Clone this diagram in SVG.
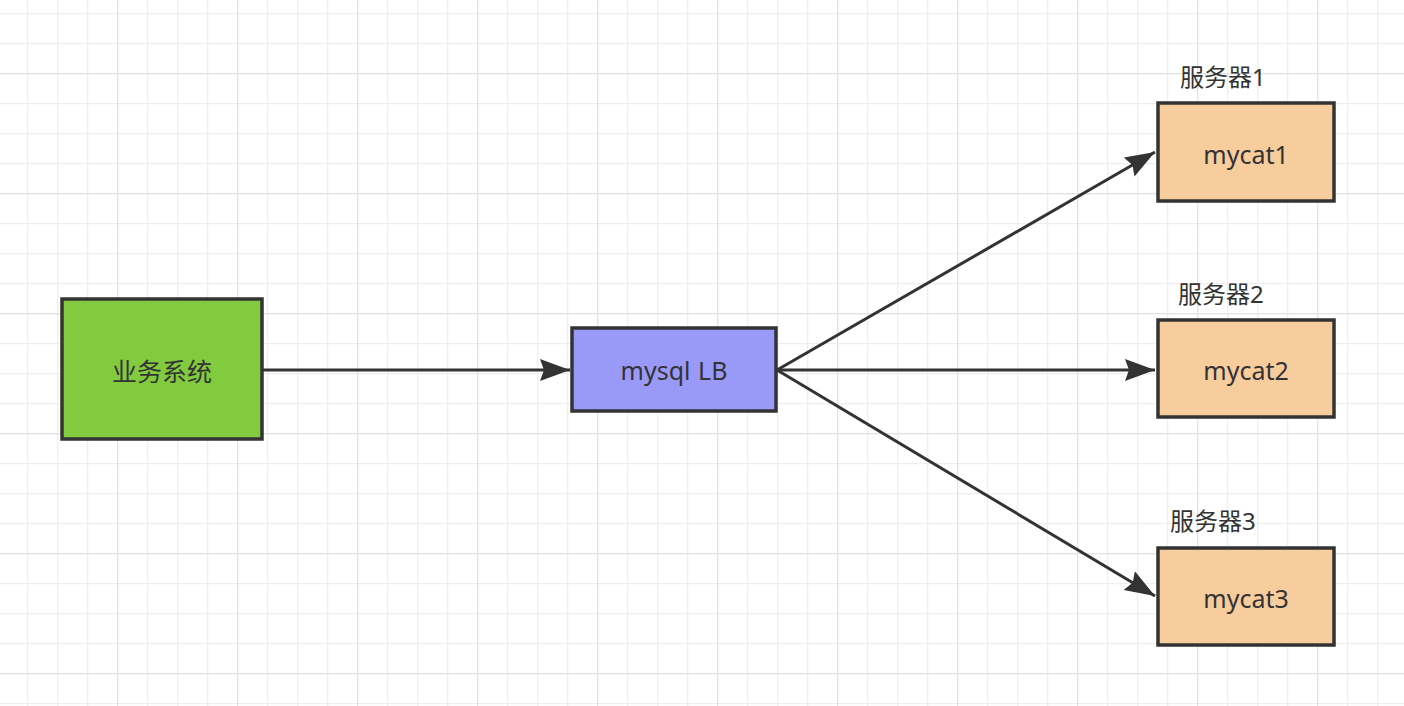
<svg xmlns="http://www.w3.org/2000/svg" width="1404" height="706" viewBox="0 0 1404 706">
<defs>
<pattern id="minor" x="27" y="13" width="30" height="30" patternUnits="userSpaceOnUse">
<path d="M0 0 V30 M0 0 H30" fill="none" stroke="#eeeeee" stroke-width="2.5"/>
</pattern>
<pattern id="major" x="117" y="73" width="120" height="120" patternUnits="userSpaceOnUse">
<path d="M0 0 V120 M0 0 H120" fill="none" stroke="#e3e3e3" stroke-width="2.5"/>
</pattern>
<marker id="arrow" markerUnits="userSpaceOnUse" markerWidth="32" markerHeight="24" refX="30" refY="11" orient="auto">
<path d="M0 0 L30 11 L0 22 L4 11 Z" fill="#333"/>
</marker>
<style>
.box{stroke:#333;stroke-width:3.5}
.t{font-family:"Noto Sans","Noto Sans CJK SC",sans-serif;font-size:25px;fill:#333;text-anchor:middle}
.lbl{font-family:"Noto Sans","Noto Sans CJK SC",sans-serif;font-size:24px;fill:#333}
.edge{stroke:#333;stroke-width:3;fill:none;marker-end:url(#arrow)}
</style>
</defs>
<rect width="1404" height="706" fill="#fff"/>
<rect width="1404" height="706" fill="url(#minor)"/>
<rect width="1404" height="706" fill="url(#major)"/>
<g id="connectors">
<path class="edge" d="M263 370 H570"/>
<path class="edge" d="M777 370 L1155 152"/>
<path class="edge" d="M777 370 H1155"/>
<path class="edge" d="M777 370 L1155 596"/>
</g>
<g id="node-business">
<rect class="box" x="62" y="299" width="200" height="140" fill="#82cb3f"/>
<text class="t" x="162" y="381">业务系统</text>
</g>
<g id="node-lb">
<rect class="box" x="572" y="328" width="204" height="83" fill="#9999f8"/>
<text class="t" x="674" y="380" word-spacing="1">mysql LB</text>
</g>
<g id="node-mycat1">
<rect class="box" x="1158" y="103" width="176" height="98" fill="#f7cd9e"/>
<text class="t" x="1246" y="164">mycat1</text>
<text class="lbl" x="1180" y="86">服务器1</text>
</g>
<g id="node-mycat2">
<rect class="box" x="1158" y="320" width="176" height="97" fill="#f7cd9e"/>
<text class="t" x="1246" y="380">mycat2</text>
<text class="lbl" x="1178" y="303">服务器2</text>
</g>
<g id="node-mycat3">
<rect class="box" x="1158" y="548" width="176" height="97" fill="#f7cd9e"/>
<text class="t" x="1246" y="608">mycat3</text>
<text class="lbl" x="1170" y="530">服务器3</text>
</g>
</svg>
